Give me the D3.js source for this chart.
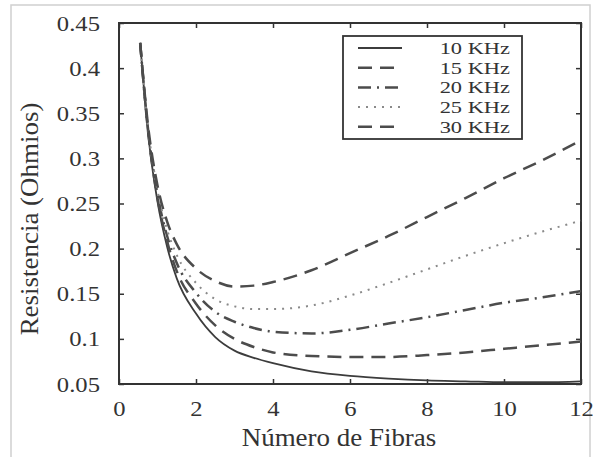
<!DOCTYPE html>
<html>
<head>
<meta charset="utf-8">
<script src="https://d3js.org/d3.v7.min.js"></script>
<style>
  body { margin: 0; background: #fff; }
  text { font-family: "Liberation Serif", "Times New Roman", serif; fill: #333; }
</style>
</head>
<body>
<script>
// values
var fibras = [0.55, 0.75, 1, 1.25, 1.5, 2, 2.5, 3, 3.5, 4, 5, 6, 7, 8, 9, 10, 11, 12];
var r10 = [0.428, 0.330, 0.252, 0.202, 0.167, 0.128, 0.102, 0.087, 0.079, 0.073, 0.064, 0.059, 0.056, 0.054, 0.053, 0.052, 0.052, 0.053];
var r15 = [0.428, 0.332, 0.256, 0.208, 0.175, 0.139, 0.115, 0.100, 0.091, 0.085, 0.081, 0.080, 0.080, 0.082, 0.085, 0.089, 0.093, 0.097];
var r20 = [0.428, 0.334, 0.260, 0.214, 0.184, 0.151, 0.130, 0.119, 0.112, 0.108, 0.106, 0.110, 0.117, 0.124, 0.132, 0.140, 0.146, 0.153];
var r25 = [0.428, 0.336, 0.265, 0.221, 0.193, 0.162, 0.144, 0.136, 0.133, 0.133, 0.137, 0.148, 0.162, 0.177, 0.192, 0.206, 0.219, 0.231];
var r30 = [0.428, 0.338, 0.270, 0.230, 0.205, 0.178, 0.164, 0.158, 0.159, 0.163, 0.176, 0.195, 0.214, 0.235, 0.256, 0.278, 0.298, 0.320];
var labels = ["10 KHz", "15 KHz", "20 KHz", "25 KHz", "30 KHz"];
var xTicks = [0, 2, 4, 6, 8, 10, 12];
var yTicks = [0.05, 0.1, 0.15, 0.2, 0.25, 0.3, 0.35, 0.4, 0.45];

var series = [
  {name: labels[0], values: r10, dash: null, color: "#3c3c3c", w: 1.8},
  {name: labels[1], values: r15, dash: "14,8", color: "#4c4c4c", w: 2.5},
  {name: labels[2], values: r20, dash: "13,6,2,6", color: "#4c4c4c", w: 2.5},
  {name: labels[3], values: r25, dash: "2,6", color: "#8a8a8a", w: 2},
  {name: labels[4], values: r30, dash: "14,8", color: "#4c4c4c", w: 2.5}
];

var W = 593, H = 457;
var mLeft = 119, mRight = 581, mTop = 23, mBottom = 384;
var stretch = "scale(1.12,1)"; // the scanned text is a little wider than Times

var svg = d3.select("body").append("svg")
  .attr("width", W).attr("height", H);

// outer frame of the scan
svg.append("rect")
  .attr("x", 11).attr("y", 5).attr("width", 579).attr("height", 470)
  .attr("fill", "none").attr("stroke", "#d0d0d0").attr("stroke-width", 1.5);

var x = d3.scaleLinear().domain([0, 12]).range([mLeft, mRight]);
var y = d3.scaleLinear().domain([0.05, 0.45]).range([mBottom, mTop]);

// axes with inward ticks on all sides
function styleAxis(g) {
  g.select(".domain").remove();
  g.selectAll("line").attr("stroke", "#333").attr("stroke-width", 1.5);
  g.selectAll("text").style("font-size", "22px").attr("fill", "#333")
    .attr("transform", stretch);
}
svg.append("g").attr("transform", "translate(0," + mBottom + ")")
  .call(d3.axisBottom(x).tickValues(xTicks).tickSizeInner(-5).tickSizeOuter(0).tickPadding(16)
    .tickFormat(d3.format("d")))
  .call(styleAxis);
svg.append("g").attr("transform", "translate(0," + mTop + ")")
  .call(d3.axisTop(x).tickValues(xTicks).tickSizeInner(-5).tickSizeOuter(0).tickFormat(""))
  .call(styleAxis);
svg.append("g").attr("transform", "translate(" + mLeft + ",0)")
  .call(d3.axisLeft(y).tickValues(yTicks).tickSizeInner(-5).tickSizeOuter(0).tickPadding(17)
    .tickFormat(function (d) { return d3.format(".2~f")(d); }))
  .call(styleAxis);
svg.append("g").attr("transform", "translate(" + mRight + ",0)")
  .call(d3.axisRight(y).tickValues(yTicks).tickSizeInner(-5).tickSizeOuter(0).tickFormat(""))
  .call(styleAxis);

svg.append("rect")
  .attr("x", mLeft).attr("y", mTop).attr("width", mRight - mLeft).attr("height", mBottom - mTop)
  .attr("fill", "none").attr("stroke", "#333").attr("stroke-width", 2);

// curves
var line = d3.line()
  .x(function (d, i) { return x(fibras[i]); })
  .y(function (d) { return y(d); })
  .curve(d3.curveMonotoneX);

series.forEach(function (s) {
  svg.append("path")
    .attr("d", line(s.values))
    .attr("fill", "none")
    .attr("stroke", s.color)
    .attr("stroke-width", s.w)
    .attr("stroke-dasharray", s.dash);
});

// axis titles
svg.append("text")
  .attr("transform", "translate(339,446) scale(1.1,1)")
  .attr("text-anchor", "middle")
  .style("font-size", "24.5px")
  .text("Número de Fibras");

svg.append("text")
  .attr("transform", "translate(38,219) rotate(-90) scale(1.1,1)")
  .attr("text-anchor", "middle")
  .style("font-size", "24.5px")
  .text("Resistencia (Ohmios)");

// legend
var lg = svg.append("g");
lg.append("rect")
  .attr("x", 343).attr("y", 36).attr("width", 179).attr("height", 103)
  .attr("fill", "#fff").attr("stroke", "#333").attr("stroke-width", 1.8);
series.forEach(function (s, i) {
  var cy = 48 + i * 19.7;
  lg.append("line")
    .attr("x1", 358).attr("x2", 402).attr("y1", cy).attr("y2", cy)
    .attr("stroke", s.color).attr("stroke-width", s.w)
    .attr("stroke-dasharray", s.dash);
  lg.append("text")
    .attr("transform", "translate(510," + (cy + 6) + ") scale(1.32,1)")
    .attr("text-anchor", "end")
    .style("font-size", "17px")
    .text(s.name);
});
</script>
</body>
</html>
